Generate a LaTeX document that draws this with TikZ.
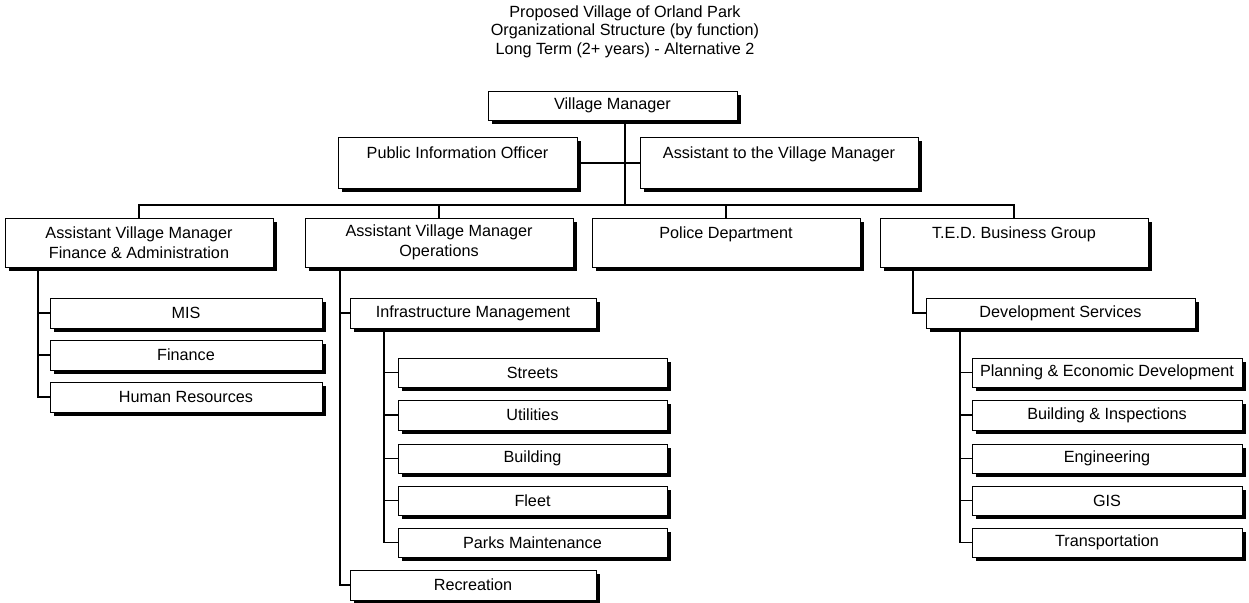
\documentclass[tikz,border=0pt]{standalone}
\usepackage{fontspec}
\setmainfont{Liberation Sans}
\usetikzlibrary{shadows}
\newcommand{\boxfont}{\fontsize{16.2}{20.5}\selectfont}
% \unitbox{name}{x}{y}{width}{height}{text}
\newcommand{\unitbox}[6]{\node[ocbox, minimum width=#4pt, minimum height=#5pt] (#1) at (#2,#3) {#6};}
\begin{document}
\begin{tikzpicture}[x=1pt,y=-1pt,
  ocbox/.style={draw, fill=white, line width=1pt, inner sep=0pt, outer sep=0pt,
    anchor=north west, align=center, font=\boxfont,
    drop shadow={shadow xshift=3.5pt, shadow yshift=-3.5pt, opacity=1, fill=black}},
  link/.style={line width=1.3pt},
  heading/.style={align=center, font=\fontsize{16.2}{18.5}\selectfont}]
\useasboundingbox (0,0) rectangle (1249,602);

% title
\node[heading, anchor=north] (title) at (625,2)
  {Proposed Village of Orland Park\\Organizational Structure (by function)\\Long Term (2+ years) - Alternative 2};

% top level
\unitbox{vm}{488}{91}{249}{29}{Village Manager}
\unitbox{pio}{338}{137}{239}{51}{Public Information Officer\\\mbox{}}
\unitbox{atvm}{640}{137}{278}{51}{Assistant to the Village Manager\\\mbox{}}

% second level
\unitbox{fa}{5}{218}{268}{49}{Assistant Village Manager\\Finance \& Administration}
\unitbox{ops}{305}{218}{268}{49}{Assistant Village Manager\\Operations}
\unitbox{pol}{592}{218}{268}{49}{Police Department\\\mbox{}}
\unitbox{ted}{880}{218}{268}{49}{T.E.D. Business Group\\\mbox{}}

% finance & administration
\unitbox{mis}{50}{298}{272}{30}{MIS}
\unitbox{fin}{50}{340}{272}{30}{Finance}
\unitbox{hr}{50}{382}{272}{30}{Human Resources}

% operations
\unitbox{infra}{350}{298}{246}{30}{Infrastructure Management}
\unitbox{rec}{350}{570}{246}{30}{Recreation}
\unitbox{streets}{398}{358}{269}{29}{Streets}
\unitbox{util}{398}{400}{269}{30}{Utilities}
\unitbox{bldg}{398}{444}{269}{29}{Building}
\unitbox{fleet}{398}{486}{269}{29}{Fleet}
\unitbox{parks}{398}{528}{269}{29}{Parks Maintenance}

% T.E.D.
\unitbox{dev}{926}{298}{269}{30}{Development Services}
\unitbox{plan}{972}{358}{270}{29}{Planning \& Economic Development}
\unitbox{insp}{972}{400}{270}{30}{Building \& Inspections}
\unitbox{eng}{972}{444}{270}{29}{Engineering}
\unitbox{gis}{972}{486}{270}{29}{GIS}
\unitbox{trans}{972}{528}{270}{29}{Transportation}

% connector anchors
\coordinate (bus) at (625,205);
\coordinate (staff) at (625,163);
\coordinate (faspine) at (38,267);
\coordinate (opspine) at (340,267);
\coordinate (infspine) at (384,328);
\coordinate (tedspine) at (913,267);
\coordinate (devspine) at (960,328);

% connectors
\draw[link] (vm.south -| bus) -- (bus);
\draw[link] (pio.east |- staff) -- (atvm.west |- staff);
\draw[link] (fa.north) -- (fa.north |- bus) -- (ted.north |- bus) -- (ted.north);
\draw[link] (ops.north) -- (ops.north |- bus);
\draw[link] (pol.north) -- (pol.north |- bus);

\draw[link] (fa.south -| faspine) -- (faspine |- hr.west) -- (hr.west);
\draw[link] (faspine |- mis.west) -- (mis.west);
\draw[link] (faspine |- fin.west) -- (fin.west);

\draw[link] (ops.south -| opspine) -- (opspine |- rec.west) -- (rec.west);
\draw[link] (opspine |- infra.west) -- (infra.west);

\draw[link] (infra.south -| infspine) -- (infspine |- parks.west) -- (parks.west);
\draw[link] (infspine |- streets.west) -- (streets.west);
\draw[link] (infspine |- util.west) -- (util.west);
\draw[link] (infspine |- bldg.west) -- (bldg.west);
\draw[link] (infspine |- fleet.west) -- (fleet.west);

\draw[link] (ted.south -| tedspine) -- (tedspine |- dev.west) -- (dev.west);

\draw[link] (dev.south -| devspine) -- (devspine |- trans.west) -- (trans.west);
\draw[link] (devspine |- plan.west) -- (plan.west);
\draw[link] (devspine |- insp.west) -- (insp.west);
\draw[link] (devspine |- eng.west) -- (eng.west);
\draw[link] (devspine |- gis.west) -- (gis.west);
\end{tikzpicture}
\end{document}
